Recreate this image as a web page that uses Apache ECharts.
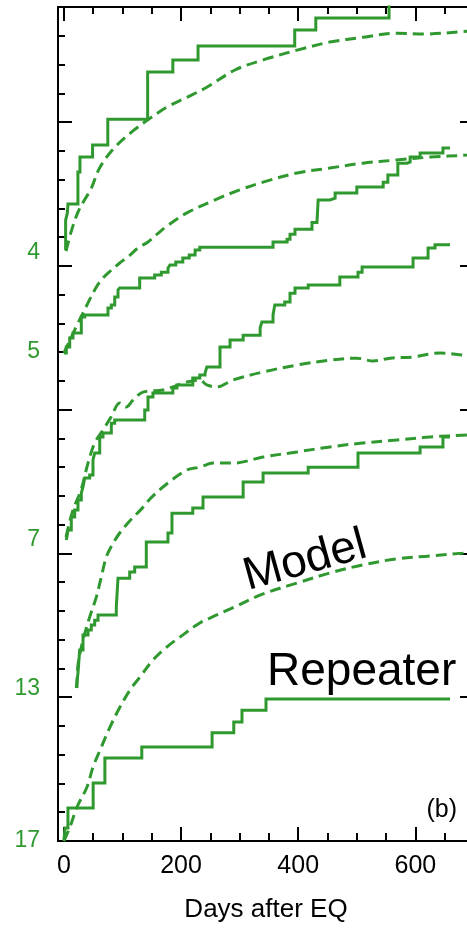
<!DOCTYPE html>
<html>
<head>
<meta charset="utf-8">
<script src="https://cdn.jsdelivr.net/npm/echarts@6/dist/echarts.min.js"></script>
<style>
  html, body { margin: 0; padding: 0; background: #fff; }
  #chart { width: 467px; height: 929px; }
</style>
</head>
<body>
<div id="chart"></div>
<script>
// Tick positions (days after the earthquake, and stacked offset units)
const dayTicksMinor = [0, 50, 100, 150, 200, 250, 300, 350, 400, 450, 500, 550, 600, 650];
const dayTicksMajor = [0, 200, 400, 600];
const levelTicksMinor = [0, 1, 2, 3, 4, 5, 6, 7, 8, 9, 10, 11, 12, 13, 14, 15, 16, 17, 18, 19, 20, 21, 22, 23, 24, 25, 26, 27, 28];
const levelTicksMajor = [0, 5, 10, 15, 20, 25];

// Sequence names shown at the start level of each pair of curves
const seqNames = ['4', '5', '7', '13', '17'];
const seqStart = [20.45, 17.0, 10.47, 5.28, 0];

// Observed cumulative repeater counts (step curves), [day, level]
const obs4 = [[3, 20.55], [3, 21.59], [6, 21.84], [7, 22.15], [24, 23.26], [27.5, 23.78], [49, 24.2], [75, 25.1], [143, 26.74], [186, 27.16], [229, 27.64], [394, 28.2], [430, 28.62], [555, 29.4]];
const obs5 = [[0, 16.97], [4.2, 17.18], [10, 17.49], [15.6, 17.66], [29.8, 18.22], [35.6, 18.29], [75.3, 18.53], [81, 18.64], [86.8, 18.92], [92.4, 19.16], [95.3, 19.23], [129.4, 19.58], [155, 19.68], [166.3, 19.78], [177.7, 19.92], [181, 20.03], [191, 20.13], [203, 20.27], [214, 20.38], [224, 20.55], [232, 20.65], [357, 20.83], [381, 20.92], [386, 21.1], [394.5, 21.27], [423.5, 21.51], [432, 21.57], [434, 22.29], [454, 22.35], [463, 22.53], [500, 22.74], [545, 22.91], [553, 23.16], [570, 23.57], [586, 23.61], [591, 23.78], [608, 23.92], [647, 24.1], [659, 24.1]];
const obs7 = [[4.2, 10.47], [7.1, 10.81], [12.7, 11.27], [18.5, 11.51], [24.1, 11.86], [29.8, 12.1], [32.7, 12.31], [35.6, 12.62], [44.1, 12.73], [49.7, 13.25], [52.6, 13.49], [61.2, 14.05], [66.8, 14.19], [81, 14.53], [86.8, 14.64], [138, 14.99], [143.6, 15.44], [152, 15.58], [186, 15.75], [193, 15.86], [220, 16.1], [232, 16.2], [241, 16.27], [244, 16.48], [266.5, 17.18], [283.6, 17.42], [306, 17.59], [335, 17.84], [338, 18.05], [357, 18.29], [360, 18.64], [377, 18.74], [386, 19.05], [394.5, 19.23], [417, 19.33], [471, 19.61], [502, 19.78], [509, 19.96], [596, 20.27], [621.6, 20.62], [633.5, 20.73], [659, 20.73]];
const obs13 = [[21.2, 5.32], [24.1, 5.84], [27, 6.64], [32.7, 7.16], [41.2, 7.34], [46.8, 7.51], [52.6, 7.68], [58.3, 7.86], [89.5, 8.14], [92.4, 9.14], [112.4, 9.35], [120.9, 9.53], [140.7, 10.4], [177.7, 10.71], [184.5, 11.4], [220, 11.58], [237.5, 11.96], [306, 12.48], [340, 12.8], [417, 13.0], [502, 13.49], [608, 13.7], [647, 14.05], [659, 14.05]];
const obs17 = [[0, 0], [2, 0.45], [7, 1.15], [50, 2.02], [70, 2.89], [133, 3.27], [253, 3.76], [290, 4.14], [304, 4.55], [345, 4.94], [659, 4.94]];

// Model curves (dashed), [day, level]
const model4 = [[3.7, 20.51], [12.2, 21.17], [24.1, 21.87], [36.1, 22.32], [46.3, 22.67], [61.7, 23.43], [87.3, 24.13], [118, 24.69], [147, 25.13], [176, 25.52], [210, 25.86], [244, 26.21], [292, 26.81], [340, 27.16], [398, 27.5], [454, 27.78], [511, 27.95], [569, 28.09], [613, 28.06], [688, 28.16], [700, 28.2]];
const model5 = [[0, 16.97], [12.7, 17.52], [24.1, 18.01], [32.7, 18.36], [41.2, 18.71], [52.6, 19.16], [63.9, 19.51], [81, 19.85], [95.3, 20.1], [109.5, 20.31], [126.5, 20.62], [143.6, 20.83], [160.7, 21.13], [177.7, 21.41], [210, 21.84], [261, 22.32], [300, 22.64], [340, 22.91], [398, 23.23], [454, 23.4], [510, 23.57], [568, 23.68], [625, 23.78], [688, 23.85], [700, 23.87]];
const model7 = [[3.7, 10.57], [15.6, 11.51], [29.3, 12.2], [41.2, 13.14], [52.6, 13.84], [66.8, 14.29], [80.5, 14.74], [95.3, 15.23], [106, 15.09], [118, 15.33], [135, 15.61], [169, 15.68], [186, 15.79], [210, 15.96], [232, 16.03], [244, 15.86], [261, 15.79], [289, 16.03], [340, 16.31], [398, 16.55], [454, 16.72], [500, 16.79], [528, 16.69], [557, 16.79], [596, 16.83], [642, 16.97], [681, 16.9], [700, 16.86]];
const model13 = [[22.4, 5.32], [24.1, 6.12], [32.7, 6.99], [44.1, 7.79], [55.4, 8.48], [63.9, 9.18], [72.4, 9.87], [82.2, 10.29], [95.3, 10.71], [112.4, 11.13], [132.2, 11.54], [148.7, 11.93], [177.8, 12.45], [210, 12.9], [232, 13.0], [255, 13.14], [289, 13.14], [340, 13.35], [398, 13.53], [454, 13.7], [510, 13.84], [568, 13.94], [625, 14.05], [688, 14.12], [700, 14.15]];
const model17 = [[0, 0], [10.5, 0.49], [22.4, 1.18], [39.5, 1.88], [49.7, 2.57], [61.7, 3.16], [78.7, 3.96], [95.8, 4.66], [112.8, 5.25], [129.8, 5.7], [152, 6.29], [176, 6.75], [198, 7.09], [232, 7.58], [261, 7.86], [284, 8.07], [340, 8.59], [398, 8.97], [454, 9.32], [510, 9.6], [568, 9.81], [625, 9.91], [681, 10.01], [700, 10.05]];

const GREEN = '#2f992f';
const FONT = '"Liberation Sans", Arial, Helvetica, sans-serif';
const LINE = { color: '#000', width: 2 };
const DAY_MIN = -10, DAY_MAX = 700, LEVEL_MIN = 0, LEVEL_MAX = 29;

function frameAxis(min, max, position, ticks, len, opts) {
  return Object.assign({
    type: 'value', position: position, min: min, max: max,
    axisLine: { show: true, onZero: false, lineStyle: LINE },
    axisTick: { show: true, inside: true, length: len, customValues: ticks, lineStyle: LINE },
    axisLabel: { show: false },
    splitLine: { show: false }
  }, opts || {});
}
function dayAxis(position, ticks, len, opts) { return frameAxis(DAY_MIN, DAY_MAX, position, ticks, len, opts); }
function levelAxis(position, ticks, len, opts) { return frameAxis(LEVEL_MIN, LEVEL_MAX, position, ticks, len, opts); }
const HIDDEN_LINE = { axisLine: { show: false, onZero: false } };

function obsSeries(name, data) {
  return {
    name: name, type: 'line', data: data, step: 'end', symbol: 'none',
    xAxisIndex: 0, yAxisIndex: 0,
    lineStyle: { color: GREEN, width: 3, join: 'miter' }
  };
}

function modelSeries(name, data) {
  return {
    name: name, type: 'line', data: data, smooth: 0.35, symbol: 'none',
    xAxisIndex: 0, yAxisIndex: 0,
    lineStyle: { color: GREEN, width: 3, type: [11, 6], cap: 'butt' }
  };
}

const chart = echarts.init(document.getElementById('chart'), null, { renderer: 'canvas' });

chart.setOption({
  animation: false,
  backgroundColor: '#fff',
  textStyle: { fontFamily: FONT },
  grid: { left: 58, top: 7, width: 416, height: 834, outerBoundsMode: 'none', containLabel: false },
  xAxis: [
    dayAxis('bottom', dayTicksMinor, 8, {
      axisLabel: { show: true, customValues: dayTicksMajor, fontSize: 25, color: '#000', margin: 13, fontFamily: FONT },
      name: 'Days after EQ', nameLocation: 'middle', nameGap: 56,
      nameTextStyle: { fontSize: 26, color: '#000', fontFamily: FONT }
    }),
    dayAxis('bottom', dayTicksMajor, 14, HIDDEN_LINE),
    dayAxis('top', dayTicksMinor, 7),
    dayAxis('top', dayTicksMajor, 14, HIDDEN_LINE)
  ],
  yAxis: [
    levelAxis('left', levelTicksMinor, 7),
    levelAxis('left', levelTicksMajor, 14, {
      axisLine: { show: false, onZero: false },
      axisLabel: {
        show: true, customValues: seqStart, margin: 18, fontSize: 23, color: GREEN, fontFamily: FONT,
        formatter: function (v) {
          for (let i = 0; i < seqStart.length; i++) {
            if (Math.abs(seqStart[i] - v) < 1e-6) return seqNames[i];
          }
          return '';
        }
      }
    }),
    levelAxis('right', levelTicksMinor, 7),
    levelAxis('right', levelTicksMajor, 14, HIDDEN_LINE)
  ],
  series: [
    obsSeries('Repeater 4', obs4), modelSeries('Model 4', model4),
    obsSeries('Repeater 5', obs5), modelSeries('Model 5', model5),
    obsSeries('Repeater 7', obs7), modelSeries('Model 7', model7),
    obsSeries('Repeater 13', obs13), modelSeries('Model 13', model13),
    obsSeries('Repeater 17', obs17), modelSeries('Model 17', model17)
  ],
  graphic: [
    {
      type: 'text', x: 305, y: 561, rotation: 0.27, silent: true,
      style: { text: 'Model', font: '46px ' + FONT, fill: '#000', align: 'center', verticalAlign: 'middle' }
    },
    {
      type: 'text', x: 267, y: 672, silent: true,
      style: { text: 'Repeater', font: '46px ' + FONT, fill: '#000', align: 'left', verticalAlign: 'middle' }
    },
    {
      type: 'text', x: 457, y: 810, silent: true,
      style: { text: '(b)', font: '25px ' + FONT, fill: '#000', align: 'right', verticalAlign: 'middle' }
    }
  ]
});
</script>
</body>
</html>
